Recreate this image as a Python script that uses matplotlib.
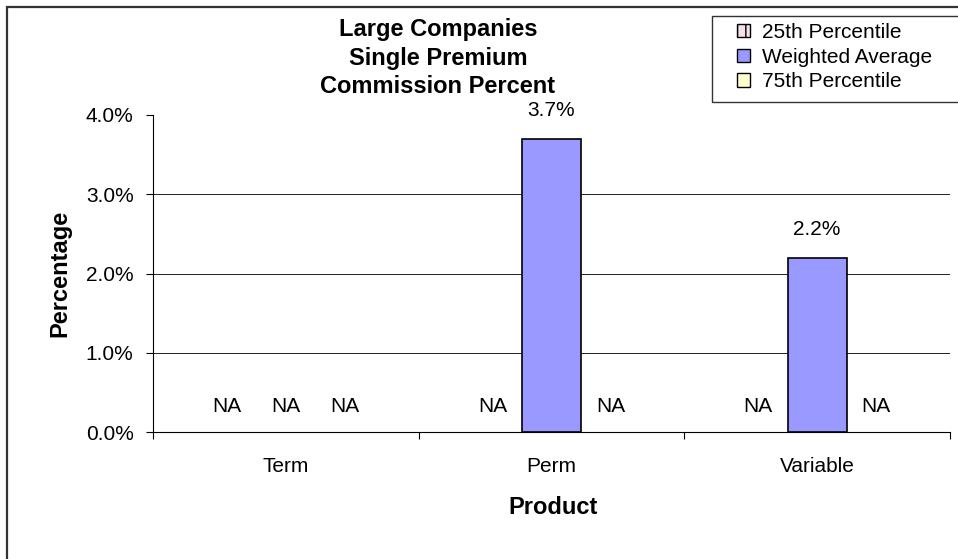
import matplotlib
matplotlib.use("Agg")
import matplotlib.pyplot as plt
import numpy as np
from matplotlib.patches import Patch, Rectangle
from matplotlib.ticker import FixedLocator, NullFormatter

plt.rcParams['font.family'] = ['Liberation Sans', 'DejaVu Sans']
plt.rcParams['hatch.color'] = "#993366"

# data (NaN = NA)
products = ["Term", "Perm", "Variable"]
series_names = ["25th Percentile", "Weighted Average", "75th Percentile"]
p25 = [np.nan, np.nan, np.nan]
wavg = [np.nan, 3.7, 2.2]
p75 = [np.nan, np.nan, np.nan]
yticks = [0, 1, 2, 3, 4]

W, H = 958, 559
fig = plt.figure(figsize=(W / 100, H / 100), dpi=100)
ax = fig.add_axes([153 / W, 1 - 432 / H, (950 - 153) / W, (432 - 115) / H])

# outer chart border (cut off on right/bottom)
fig.patches.append(Rectangle((7 / W, -0.1), 1.2, 1.1 - 7 / H, transform=fig.transFigure,
                             fill=False, edgecolor="#333333", lw=1.6, zorder=0))

fs = 15
bw = 0.222
colors = ["#993366", "#9999FF", "#FFFFCC"]
x = np.arange(len(products)) + 0.5
for j, vals in enumerate([p25, wavg, p75]):
    xs = x + (j - 1) * bw
    ax.bar(xs, vals, width=bw, color=colors[j], edgecolor="black", lw=1.2, zorder=3)
    for xi, v in zip(xs, vals):
        if np.isnan(v):
            ax.annotate("NA", (xi, 0), xytext=(0, 18.5), textcoords="offset points",
                        ha="center", va="center", fontsize=fs)
        else:
            ax.annotate(f"{v:.1f}%", (xi, v), xytext=(0, 20), textcoords="offset points",
                        ha="center", va="center", fontsize=fs)

ax.set_xlim(0, 3)
ax.set_ylim(0, 4)
ax.set_yticks(yticks)
ax.set_yticklabels([f"{t:.1f}%" for t in yticks], fontsize=fs)
for t in yticks[1:-1]:
    ax.axhline(t, color="#222222", lw=0.7, zorder=1)

ax.xaxis.set_major_locator(FixedLocator([0, 1, 2, 3]))
ax.xaxis.set_major_formatter(NullFormatter())
ax.set_xticks(x, minor=True)
ax.set_xticklabels(products, minor=True, fontsize=fs)
ax.tick_params(axis="x", which="major", direction="out", length=5, width=0.8)
ax.tick_params(axis="x", which="minor", length=0, pad=18)
ax.tick_params(axis="y", direction="out", length=5, width=0.8, pad=9)

for s in ["top", "right"]:
    ax.spines[s].set_visible(False)
for s in ["left", "bottom"]:
    ax.spines[s].set_linewidth(0.8)

fig.text(438 / W, 1 - 58 / H, "Large Companies\nSingle Premium\nCommission Percent",
         ha="center", va="center", fontsize=17, fontweight="bold", linespacing=1.33)
fig.text(60 / W, 1 - 273 / H, "Percentage", rotation=90, ha="center", va="center",
         fontsize=17, fontweight="bold")
fig.text(553 / W, 1 - 508 / H, "Product", ha="center", va="center",
         fontsize=17, fontweight="bold")

# legend
fig.patches.append(Rectangle((712 / W, 1 - 102 / H), 1.0, (102 - 16) / H,
                             transform=fig.transFigure, fill=False,
                             edgecolor="#333333", lw=1.0))
handles = [Patch(facecolor="#F3E0EA", edgecolor="black", hatch="||", lw=1.0),
           Patch(facecolor=colors[1], edgecolor="black", lw=1.0),
           Patch(facecolor=colors[2], edgecolor="black", lw=1.0)]
fig.legend(handles, series_names, loc="upper left", bbox_to_anchor=(737 / W, 1 - 23 / H),
           frameon=False, fontsize=fs, handlelength=0.6, handleheight=0.6,
           handletextpad=0.6, labelspacing=0.27, borderpad=0, borderaxespad=0)

fig.savefig("out.png", dpi=100)
